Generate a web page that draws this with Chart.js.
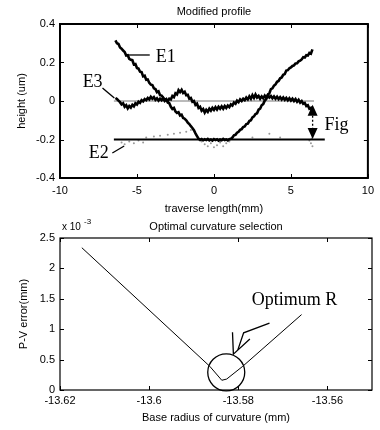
<!DOCTYPE html>
<html>
<head>
<meta charset="utf-8">
<script src="https://cdn.jsdelivr.net/npm/chart.js@4.4.1/dist/chart.umd.min.js"></script>
<style>
  body { margin: 0; background: #fff; }
  canvas { display: block; }
</style>
</head>
<body>
<canvas id="profile" width="380" height="215"></canvas>
<canvas id="curvature" width="380" height="215"></canvas>
<script>
// ---- Modified profile (top) ----
const profileX = [
  -6.4, -6.3, -6.2, -6.1, -6.0, -5.9, -5.8, -5.7, -5.6, -5.5,
  -5.4, -5.3, -5.2, -5.1, -5.0, -4.9, -4.8, -4.7, -4.6, -4.5,
  -4.4, -4.3, -4.2, -4.1, -4.0, -3.9, -3.8, -3.7, -3.6, -3.5,
  -3.4, -3.3, -3.2, -3.1, -3.0, -2.9, -2.8, -2.7, -2.6, -2.5,
  -2.4, -2.3, -2.2, -2.1, -2.0, -1.9, -1.8, -1.7, -1.6, -1.5,
  -1.4, -1.3, -1.2, -1.1, -1.0, -0.9, -0.8, -0.7, -0.6, -0.5,
  -0.4, -0.3, -0.2, -0.1, 0.0, 0.1, 0.2, 0.3, 0.4, 0.5,
  0.6, 0.7, 0.8, 0.9, 1.0, 1.1, 1.2, 1.3, 1.4, 1.5,
  1.6, 1.7, 1.8, 1.9, 2.0, 2.1, 2.2, 2.3, 2.4, 2.5,
  2.6, 2.7, 2.8, 2.9, 3.0, 3.1, 3.2, 3.3, 3.4, 3.5,
  3.6, 3.7, 3.8, 3.9, 4.0, 4.1, 4.2, 4.3, 4.4, 4.5,
  4.6, 4.7, 4.8, 4.9, 5.0, 5.1, 5.2, 5.3, 5.4, 5.5,
  5.6, 5.7, 5.8, 5.9, 6.0, 6.1, 6.2, 6.3, 6.4
];
const e1Height = [
  0.315, 0.300, 0.296, 0.278, 0.272, 0.262, 0.255, 0.236, 0.238, 0.219,
  0.214, 0.212, 0.190, 0.192, 0.171, 0.168, 0.152, 0.150, 0.128, 0.131,
  0.110, 0.112, 0.094, 0.085, 0.083, 0.066, 0.062, 0.046, 0.050, 0.030,
  0.028, 0.018, 0.006, 0.010, -0.008, -0.012, -0.030, -0.041, -0.036, -0.055,
  -0.062, -0.058, -0.075, -0.071, -0.088, -0.092, -0.100, -0.112, -0.120, -0.131,
  -0.140, -0.152, -0.168, -0.182, -0.196, -0.202, -0.198, -0.204, -0.199, -0.203,
  -0.197, -0.205, -0.200, -0.206, -0.198, -0.203, -0.199, -0.206, -0.200, -0.204,
  -0.197, -0.203, -0.200, -0.205, -0.198, -0.196, -0.190, -0.178, -0.176, -0.165,
  -0.160, -0.150, -0.146, -0.135, -0.132, -0.120, -0.118, -0.104, -0.100, -0.085,
  -0.080, -0.068, -0.064, -0.045, -0.040, -0.022, -0.016, 0.002, 0.010, 0.032,
  0.040, 0.062, 0.066, 0.080, 0.086, 0.100, 0.104, 0.118, 0.122, 0.136,
  0.140, 0.158, 0.160, 0.170, 0.174, 0.182, 0.185, 0.195, 0.196, 0.206,
  0.210, 0.216, 0.228, 0.226, 0.238, 0.236, 0.250, 0.246, 0.268
];
const e3Height = [
  0.016, 0.010, 0.002, -0.006, -0.018, -0.012, -0.030, -0.022, -0.038, -0.026,
  -0.034, -0.020, -0.028, -0.012, -0.018, -0.004, -0.010, 0.004, -0.002, 0.010,
  0.004, 0.016, 0.008, 0.022, 0.012, 0.020, 0.006, 0.014, 0.002, 0.012,
  0.004, 0.014, 0.000, 0.008, -0.002, 0.012, 0.008, 0.026, 0.020, 0.040,
  0.034, 0.056, 0.046, 0.058, 0.042, 0.048, 0.030, 0.032, 0.012, 0.016,
  -0.004, 0.000, -0.020, -0.014, -0.036, -0.030, -0.050, -0.042, -0.060, -0.046,
  -0.056, -0.040, -0.050, -0.036, -0.046, -0.032, -0.044, -0.030, -0.040, -0.028,
  -0.040, -0.026, -0.036, -0.024, -0.032, -0.018, -0.024, -0.008, -0.014, 0.002,
  -0.006, 0.008, 0.000, 0.012, 0.004, 0.018, 0.008, 0.024, 0.012, 0.030,
  0.016, 0.034, 0.018, 0.026, 0.012, 0.024, 0.014, 0.028, 0.016, 0.030,
  0.018, 0.026, 0.014, 0.024, 0.012, 0.022, 0.010, 0.020, 0.008, 0.018,
  0.006, 0.016, 0.004, 0.014, 0.002, 0.012, 0.000, 0.010, -0.004, 0.006,
  -0.008, 0.000, -0.014, -0.010, -0.026, -0.022, -0.040, -0.036, -0.060
];
const e2X = [-6.0, -5.8, -5.5, -5.2, -4.9, -4.6, -4.4, -3.9, -3.5, -3.0, -2.6, -2.2, -1.8, -1.5,
  -0.8, -0.6, -0.4, -0.2, 0.0, 0.2, 0.4, 0.6, 0.8, 1.0, 2.5, 3.6, 4.3, 6.2, 6.3, 6.35, 6.4];
const e2Height = [-0.215, -0.225, -0.21, -0.22, -0.205, -0.215, -0.19, -0.185, -0.18, -0.175, -0.17, -0.165, -0.16, -0.15,
  -0.21, -0.225, -0.235, -0.22, -0.24, -0.23, -0.215, -0.235, -0.22, -0.21, -0.19, -0.17, -0.19, -0.205, -0.22, -0.195, -0.235];
const zeroRefX = [-6.5, 6.5];
const zeroRefHeight = [0, 0];
const figRefX = [-6.5, 7.2];
const figRefHeight = [-0.2, -0.2];
const profileXTicks = [-10, -5, 0, 5, 10];
const profileXLabels = ['-10', '-5', '0', '5', '10'];
const profileYTicks = [-0.4, -0.2, 0, 0.2, 0.4];
const profileYLabels = ['-0.4', '-0.2', '0', '0.2', '0.4'];

// ---- Optimal curvature selection (bottom) ----
const radiusX = [-13.6151, -13.5864, -13.5837, -13.5826, -13.5790, -13.5658];
const pvError = [2.34, 0.39, 0.16, 0.18, 0.39, 1.24];
const radiusTicks = [-13.62, -13.6, -13.58, -13.56];
const radiusLabels = ['-13.62', '-13.6', '-13.58', '-13.56'];
const pvTicks = [0, 0.5, 1, 1.5, 2, 2.5];
const pvLabels = ['0', '0.5', '1', '1.5', '2', '2.5'];

const toPoints = (xs, ys) => xs.map((x, i) => ({ x, y: ys[i] }));
const tickFont = { family: 'Liberation Sans', size: 11 };

const boxPlugin = {
  id: 'box',
  afterDatasetsDraw(chart, args, o) {
    const { ctx, chartArea: a, scales: { x, y } } = chart;
    ctx.save();
    ctx.strokeStyle = '#000';
    ctx.lineWidth = o.frameWidth;
    ctx.strokeRect(a.left, a.top, a.right - a.left, a.bottom - a.top);
    ctx.lineWidth = 1;
    ctx.beginPath();
    x.ticks.forEach(t => {
      const px = Math.round(x.getPixelForValue(t.value)) + 0.5;
      ctx.moveTo(px, a.bottom); ctx.lineTo(px, a.bottom - 4);
      ctx.moveTo(px, a.top); ctx.lineTo(px, a.top + 4);
    });
    y.ticks.forEach(t => {
      const py = Math.round(y.getPixelForValue(t.value)) + 0.5;
      ctx.moveTo(a.left, py); ctx.lineTo(a.left + 4, py);
      ctx.moveTo(a.right, py); ctx.lineTo(a.right - 4, py);
    });
    ctx.stroke();

    ctx.fillStyle = '#000';
    ctx.textAlign = 'center';
    ctx.textBaseline = 'middle';
    ctx.font = o.font;
    const cx = (a.left + a.right) / 2;
    ctx.fillText(o.title, cx, a.top - o.titleGap);
    ctx.fillText(o.xTitle, cx, a.bottom + o.xTitleGap);
    ctx.save();
    ctx.translate(o.yTitleX, (a.top + a.bottom) / 2);
    ctx.rotate(-Math.PI / 2);
    ctx.fillText(o.yTitle, 0, 0);
    ctx.restore();
    ctx.restore();
  }
};

const notesPlugin = {
  id: 'notes',
  afterDatasetsDraw(chart, args, o) {
    const { ctx, scales: { x, y } } = chart;
    const X = v => x.getPixelForValue(v);
    const Y = v => y.getPixelForValue(v);
    ctx.save();
    ctx.strokeStyle = '#000';
    ctx.fillStyle = '#000';
    ctx.lineWidth = 1.3;
    (o.lines || []).forEach(pts => {
      ctx.beginPath();
      ctx.moveTo(X(pts[0]), Y(pts[1]));
      for (let i = 2; i < pts.length; i += 2) ctx.lineTo(X(pts[i]), Y(pts[i + 1]));
      ctx.stroke();
    });
    (o.circles || []).forEach(c => {
      ctx.beginPath();
      ctx.arc(X(c.x), Y(c.y), c.r, 0, Math.PI * 2);
      ctx.stroke();
    });
    (o.doubleArrows || []).forEach(d => {
      const px = X(d.x);
      const tipT = Y(d.top), tipB = Y(d.bottom);
      const h = 11, w = 5;
      ctx.beginPath();
      ctx.moveTo(px, tipT); ctx.lineTo(px - w, tipT + h); ctx.lineTo(px + w, tipT + h); ctx.closePath();
      ctx.moveTo(px, tipB); ctx.lineTo(px - w, tipB - h); ctx.lineTo(px + w, tipB - h); ctx.closePath();
      ctx.fill();
      ctx.setLineDash([2, 2]);
      ctx.beginPath();
      ctx.moveTo(px, tipT + h); ctx.lineTo(px, tipB - h);
      ctx.stroke();
      ctx.setLineDash([]);
    });
    ctx.font = '18px "Liberation Serif"';
    ctx.textAlign = 'left';
    ctx.textBaseline = 'middle';
    (o.texts || []).forEach(t => ctx.fillText(t.text, X(t.x), Y(t.y)));
    ctx.restore();
  }
};

new Chart(document.getElementById('profile'), {
  type: 'line',
  data: {
    datasets: [
      { data: toPoints(profileX, e1Height), borderColor: '#000', borderWidth: 2.6, pointRadius: 0, tension: 0 },
      { data: toPoints(profileX, e3Height), borderColor: '#000', borderWidth: 2.6, pointRadius: 0, tension: 0 },
      { data: toPoints(figRefX, figRefHeight), borderColor: '#000', borderWidth: 1.8, pointRadius: 0 },
      { data: toPoints(zeroRefX, zeroRefHeight), borderColor: '#777', borderWidth: 1, pointRadius: 0 },
      { data: toPoints(e2X, e2Height), showLine: false, pointRadius: 1, pointBackgroundColor: '#999', pointBorderWidth: 0 }
    ]
  },
  options: {
    responsive: false,
    animation: false,
    events: [],
    layout: { padding: { top: 24, right: 8, left: 0, bottom: 0 } },
    plugins: {
      legend: { display: false },
      tooltip: { enabled: false },
      box: { frameWidth: 2, font: '11px "Liberation Sans"', title: 'Modified profile', titleGap: 12,
             xTitle: 'traverse length(mm)', xTitleGap: 31, yTitle: 'height (um)', yTitleX: 22 },
      notes: {
        texts: [
          { text: 'E1', x: -3.78, y: 0.229 },
          { text: 'E3', x: -8.53, y: 0.099 },
          { text: 'E2', x: -8.14, y: -0.27 },
          { text: 'Fig', x: 7.18, y: -0.125 }
        ],
        lines: [
          [-5.77, 0.239, -4.17, 0.239],
          [-7.24, 0.068, -6.47, 0.016],
          [-6.6, -0.27, -5.83, -0.234]
        ],
        doubleArrows: [{ x: 6.41, top: -0.02, bottom: -0.197 }]
      }
    },
    scales: {
      x: {
        type: 'linear', min: -10, max: 10,
        afterBuildTicks: s => { s.ticks = profileXTicks.map(v => ({ value: v })); },
        afterFit: s => { s.height = 37; },
        ticks: { font: tickFont, color: '#000', padding: 6, maxRotation: 0, callback: (v, i) => profileXLabels[i] },
        grid: { display: false, drawTicks: false },
        border: { display: false }
      },
      y: {
        type: 'linear', min: -0.4, max: 0.4,
        afterBuildTicks: s => { s.ticks = profileYTicks.map(v => ({ value: v })); },
        afterFit: s => { s.width = 60; },
        ticks: { font: tickFont, color: '#000', padding: 5, callback: (v, i) => profileYLabels[i] },
        grid: { display: false, drawTicks: false },
        border: { display: false }
      }
    }
  },
  plugins: [boxPlugin, notesPlugin]
});

const expPlugin = {
  id: 'exp',
  afterDraw(chart) {
    const { ctx, chartArea: a } = chart;
    ctx.save();
    ctx.fillStyle = '#000';
    ctx.textBaseline = 'middle';
    ctx.textAlign = 'left';
    ctx.font = '10px "Liberation Sans"';
    ctx.fillText('x 10', a.left + 2, a.top - 11);
    ctx.font = '8px "Liberation Sans"';
    ctx.fillText('-3', a.left + 24, a.top - 16);
    ctx.restore();
  }
};

new Chart(document.getElementById('curvature'), {
  type: 'line',
  data: {
    datasets: [
      { data: toPoints(radiusX, pvError), borderColor: '#000', borderWidth: 1, pointRadius: 0, tension: 0 }
    ]
  },
  options: {
    responsive: false,
    animation: false,
    events: [],
    layout: { padding: { top: 23, right: 8, left: 0, bottom: 0 } },
    plugins: {
      legend: { display: false },
      tooltip: { enabled: false },
      box: { frameWidth: 1.2, font: '11px "Liberation Sans"', title: 'Optimal curvature selection', titleGap: 11,
             xTitle: 'Base radius of curvature (mm)', xTitleGap: 28, yTitle: 'P-V error(mm)', yTitleX: 24 },
      notes: {
        texts: [{ text: 'Optimum R', x: -13.577, y: 1.48 }],
        circles: [{ x: -13.5827, y: 0.29, r: 18.5 }],
        lines: [
          [-13.5813, 0.95, -13.5811, 0.59, -13.5774, 0.84],
          [-13.5801, 0.66, -13.5788, 0.94, -13.5730, 1.10]
        ]
      }
    },
    scales: {
      x: {
        type: 'linear', min: -13.62, max: -13.55,
        afterBuildTicks: s => { s.ticks = radiusTicks.map(v => ({ value: v })); },
        afterFit: s => { s.height = 40; },
        ticks: { font: tickFont, color: '#000', padding: 4, maxRotation: 0, callback: (v, i) => radiusLabels[i] },
        grid: { display: false, drawTicks: false },
        border: { display: false }
      },
      y: {
        type: 'linear', min: 0, max: 2.5,
        afterBuildTicks: s => { s.ticks = pvTicks.map(v => ({ value: v })); },
        afterFit: s => { s.width = 60; },
        ticks: { font: tickFont, color: '#000', padding: 5, callback: (v, i) => pvLabels[i] },
        grid: { display: false, drawTicks: false },
        border: { display: false }
      }
    }
  },
  plugins: [boxPlugin, notesPlugin, expPlugin]
});
</script>
</body>
</html>
